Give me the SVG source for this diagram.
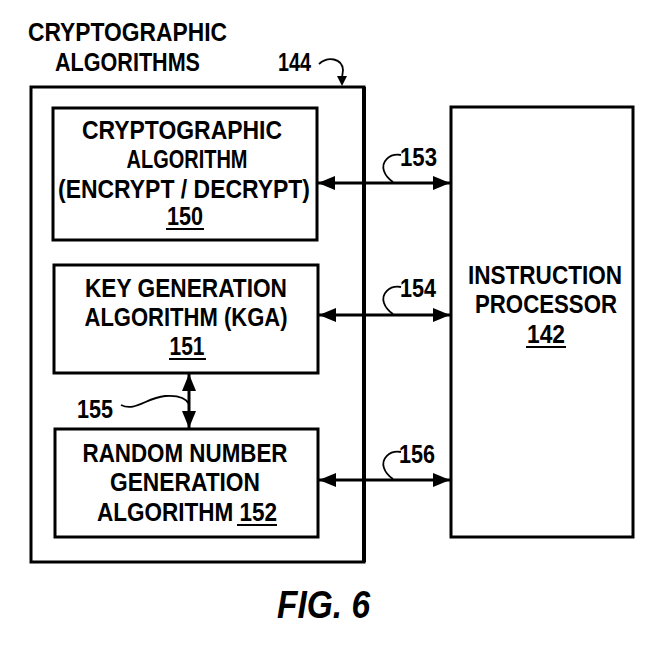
<svg xmlns="http://www.w3.org/2000/svg" width="667" height="651" viewBox="0 0 667 651">
<style>
.box{fill:none;stroke:#000;stroke-width:3}
.t{font-family:"Liberation Sans",Arial,sans-serif;font-size:26px;font-weight:bold;fill:#000;text-anchor:middle}
.l{font-family:"Liberation Sans",Arial,sans-serif;font-size:26px;font-weight:bold;fill:#000}
.c{fill:none;stroke:#000;stroke-width:3}
.w{fill:none;stroke:#000;stroke-width:1.8}
.u{stroke:#000;stroke-width:2.2}
</style>
<defs>
<marker id="ah" viewBox="0 0 17 14" refX="17" refY="7" markerWidth="17" markerHeight="14" markerUnits="userSpaceOnUse" orient="auto-start-reverse">
<path d="M0,0 L17,7 L0,14 Z" fill="#000"/>
</marker>
</defs>
<rect width="667" height="651" fill="#fff"/>
<g id="n144">
<rect class="box" x="31" y="87" width="333" height="475"/>
<line x1="364" y1="87" x2="364" y2="562" stroke="#000" stroke-width="4"/>
<text class="l" x="28" y="41" textLength="199" lengthAdjust="spacingAndGlyphs">CRYPTOGRAPHIC</text>
<text class="l" x="55" y="71" textLength="145" lengthAdjust="spacingAndGlyphs">ALGORITHMS</text>
<text class="l" x="278" y="71" textLength="33" lengthAdjust="spacingAndGlyphs">144</text>
<path class="w" d="M319,64 C328,56 342,58 343,70 L342,78"/>
<path d="M337,76 L342,86 L347,76 Z" fill="#000"/>
</g>
<g id="n150">
<rect class="box" x="53" y="108" width="264" height="132"/>
<text class="t" x="182" y="139" textLength="200" lengthAdjust="spacingAndGlyphs">CRYPTOGRAPHIC</text>
<text class="t" x="187" y="168" textLength="121" lengthAdjust="spacingAndGlyphs">ALGORITHM</text>
<text class="t" x="184" y="198" textLength="252" lengthAdjust="spacingAndGlyphs">(ENCRYPT / DECRYPT)</text>
<text class="t" x="185" y="225" textLength="36" lengthAdjust="spacingAndGlyphs">150</text>
<line class="u" x1="166" y1="229" x2="204" y2="229"/>
</g>
<g id="n151">
<rect class="box" x="54" y="265" width="264" height="108"/>
<text class="t" x="186" y="297" textLength="202" lengthAdjust="spacingAndGlyphs">KEY GENERATION</text>
<text class="t" x="186" y="326" textLength="203" lengthAdjust="spacingAndGlyphs">ALGORITHM (KGA)</text>
<text class="t" x="187" y="355" textLength="35" lengthAdjust="spacingAndGlyphs">151</text>
<line class="u" x1="169" y1="359" x2="206" y2="359"/>
</g>
<g id="n152">
<rect class="box" x="55" y="429" width="263" height="108"/>
<text class="t" x="185" y="462" textLength="205" lengthAdjust="spacingAndGlyphs">RANDOM NUMBER</text>
<text class="t" x="185" y="491" textLength="150" lengthAdjust="spacingAndGlyphs">GENERATION</text>
<text class="l" x="97" y="521" textLength="180" lengthAdjust="spacingAndGlyphs">ALGORITHM 152</text>
<line class="u" x1="237" y1="525" x2="277" y2="525"/>
</g>
<g id="n142">
<rect class="box" x="451" y="107" width="182" height="430"/>
<text class="t" x="545" y="284" textLength="154" lengthAdjust="spacingAndGlyphs">INSTRUCTION</text>
<text class="t" x="546" y="313" textLength="142" lengthAdjust="spacingAndGlyphs">PROCESSOR</text>
<text class="t" x="546" y="343" textLength="38" lengthAdjust="spacingAndGlyphs">142</text>
<line class="u" x1="526" y1="347" x2="566" y2="347"/>
</g>
<g id="connectors">
<line class="c" x1="318" y1="183" x2="450" y2="183" marker-start="url(#ah)" marker-end="url(#ah)"/>
<line class="c" x1="319" y1="315" x2="450" y2="315" marker-start="url(#ah)" marker-end="url(#ah)"/>
<line class="c" x1="319" y1="480" x2="450" y2="480" marker-start="url(#ah)" marker-end="url(#ah)"/>
<line class="c" x1="189" y1="374" x2="189" y2="428" marker-start="url(#ah)" marker-end="url(#ah)"/>
<path class="w" d="M401,155 C389,153 381,162 384,171 C386,177 390,180 393,182"/>
<path class="w" d="M401,287 C389,285 381,294 384,303 C386,309 390,312 393,314"/>
<path class="w" d="M401,452 C389,450 381,459 384,468 C386,474 390,477 393,479"/>
<path class="w" d="M121,405 C135,412 146,398 165,396 C178,395 186,398 189,404"/>
<text class="l" x="400" y="166" textLength="37" lengthAdjust="spacingAndGlyphs">153</text>
<text class="l" x="400" y="297" textLength="36" lengthAdjust="spacingAndGlyphs">154</text>
<text class="l" x="399" y="463" textLength="36" lengthAdjust="spacingAndGlyphs">156</text>
<text class="l" x="77" y="418" textLength="36" lengthAdjust="spacingAndGlyphs">155</text>
</g>
<text x="277" y="618" font-family="Liberation Sans,Arial,sans-serif" font-size="38" font-weight="bold" font-style="italic" textLength="93" lengthAdjust="spacingAndGlyphs">FIG. 6</text>
</svg>
